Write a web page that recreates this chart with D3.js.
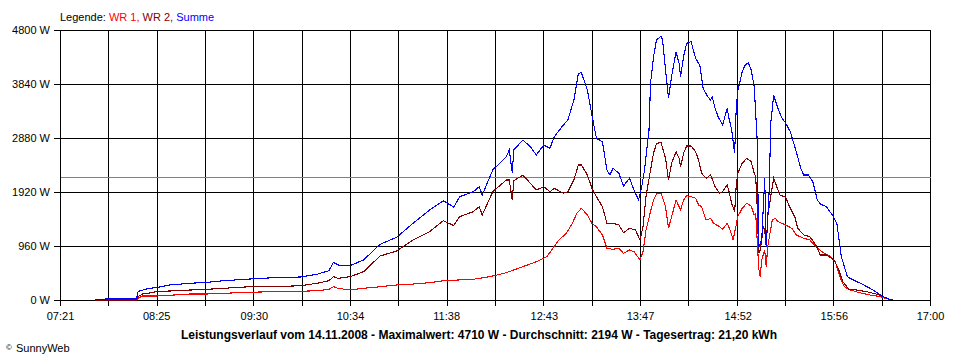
<!DOCTYPE html>
<html>
<head>
<meta charset="utf-8">
<script src="https://cdn.jsdelivr.net/npm/d3@7"></script>
<style>
  body { margin: 0; background: #fff; }
  svg { display: block; font-family: "Liberation Sans", Arial, sans-serif; }
</style>
</head>
<body>
<svg id="chart"></svg>
<script>
// ---- data (14.11.2008)
var xLabels = ["07:21", "08:25", "09:30", "10:34", "11:38", "12:43", "13:47", "14:52", "15:56", "17:00"];
var yTicks = [0, 960, 1920, 2880, 3840, 4800];
var average = 2194;

var wr1Time = ["07:44","08:12","08:13","08:16","08:25","08:34","08:48","08:59","09:10","09:27","09:43","10:01","10:12","10:20","10:23","10:26","10:34","10:43","10:54","11:05","11:16","11:27","11:36","11:46","11:56","12:07","12:18","12:29","12:38","12:45","12:49","12:53","12:58","13:02","13:05","13:08","13:12","13:15","13:18","13:22","13:25","13:29","13:33","13:36","13:40","13:43","13:47","13:49","13:51","13:54","13:56","13:58","14:01","14:04","14:06","14:08","14:11","14:13","14:14","14:16","14:18","14:21","14:24","14:26","14:28","14:31","14:34","14:36","14:40","14:42","14:45","14:47","14:49","14:51","14:52","14:55","14:58","15:01","15:03","15:04","15:05","15:06","15:07","15:08","15:10","15:11","15:12","15:15","15:17","15:19","15:24","15:28","15:31","15:36","15:40","15:44","15:48","15:54","15:57","16:00","16:03","16:07","16:13","16:20","16:27","16:32","16:35"];
var wr1Watt = [0,0,30,71,71,84,107,107,119,137,148,155,165,190,236,208,178,208,236,267,284,308,343,356,368,414,485,592,681,770,919,1067,1186,1364,1541,1630,1511,1364,1303,1156,919,901,919,830,889,859,711,859,1244,1570,1778,1884,1897,1659,1274,1481,1778,1659,1600,1778,1854,1836,1808,1689,1659,1422,1452,1364,1303,1257,1364,1244,1067,1333,1481,1630,1719,1671,1511,1541,1067,562,414,711,889,592,948,1422,1452,1392,1333,1274,1156,1097,1067,948,859,770,681,414,236,178,130,89,59,18,0];

var wr2Time = ["07:44","08:12","08:13","08:16","08:22","08:25","08:34","08:48","08:59","09:10","09:27","09:43","10:01","10:12","10:20","10:23","10:26","10:34","10:43","10:54","11:05","11:16","11:27","11:36","11:43","11:47","11:56","12:00","12:02","12:09","12:18","12:20","12:22","12:23","12:29","12:34","12:38","12:43","12:47","12:50","12:56","12:59","13:03","13:06","13:08","13:12","13:15","13:18","13:22","13:25","13:29","13:33","13:36","13:40","13:44","13:47","13:49","13:51","13:54","13:56","13:58","14:01","14:04","14:06","14:08","14:11","14:13","14:14","14:16","14:18","14:21","14:24","14:26","14:28","14:31","14:34","14:37","14:40","14:42","14:45","14:46","14:48","14:50","14:51","14:52","14:55","14:58","15:01","15:03","15:04","15:05","15:06","15:07","15:08","15:09","15:10","15:11","15:12","15:15","15:16","15:18","15:20","15:24","15:27","15:30","15:32","15:36","15:40","15:44","15:47","15:51","15:56","15:59","16:02","16:06","16:11","16:18","16:25","16:30","16:33","16:35"];
var wr2Watt = [0,0,59,107,130,148,160,178,190,208,236,236,254,297,343,414,386,414,503,782,871,1067,1214,1410,1324,1481,1570,1659,1511,1925,2133,2133,1778,2116,2222,2075,1956,2014,1925,1986,1897,1925,2133,2400,2400,2222,1986,1836,1659,1364,1364,1333,1196,1274,1244,1067,1303,1836,2311,2608,2786,2797,2519,2133,2430,2637,2519,2370,2608,2738,2738,2637,2489,2252,2164,2222,2014,1897,1925,2044,1956,1719,1570,2014,2252,2430,2519,2459,2252,2192,1659,830,889,1067,1303,1244,948,1481,2014,2164,2014,1867,1826,1630,1481,1274,1156,1126,978,800,800,711,562,325,190,178,148,101,48,12,0];

var sumTime = ["07:44","07:59","08:12","08:13","08:14","08:20","08:25","08:34","08:48","08:59","09:10","09:27","09:43","10:01","10:12","10:20","10:23","10:26","10:34","10:43","10:54","11:05","11:16","11:27","11:36","11:43","11:47","11:56","12:00","12:02","12:09","12:18","12:20","12:22","12:23","12:29","12:34","12:38","12:43","12:47","12:50","12:56","12:59","13:03","13:06","13:08","13:12","13:15","13:18","13:22","13:25","13:27","13:29","13:33","13:36","13:40","13:43","13:46","13:48","13:50","13:53","13:54","13:56","13:58","14:01","14:02","14:04","14:06","14:08","14:11","14:13","14:14","14:16","14:18","14:21","14:24","14:26","14:27","14:29","14:32","14:34","14:35","14:37","14:39","14:42","14:45","14:46","14:48","14:50","14:51","14:52","14:55","14:57","14:59","15:01","15:03","15:05","15:06","15:08","15:10","15:11","15:13","15:14","15:16","15:18","15:21","15:24","15:27","15:29","15:31","15:34","15:36","15:39","15:42","15:45","15:47","15:51","15:55","15:58","16:01","16:05","16:09","16:16","16:22","16:27","16:31","16:35"];
var sumWatt = [10,25,30,148,160,208,219,267,297,315,343,373,396,409,457,521,670,622,610,711,990,1115,1364,1600,1765,1653,1836,1925,2014,1867,2311,2548,2667,2263,2667,2844,2725,2578,2756,2697,2903,3111,3200,3556,4030,4041,3733,3289,2875,2814,2311,2222,2341,2252,2027,2164,1956,1778,1991,2311,3022,3852,4326,4622,4693,4622,4089,3585,3970,4414,4208,3970,4326,4563,4592,4297,4208,4148,3763,3615,3556,3615,3408,3259,3111,3408,3259,3022,2608,3378,3703,4059,4178,4219,4089,3793,2844,948,1067,2164,948,1956,3141,3644,3467,3259,3141,2992,2814,2637,2341,2222,2222,2103,1778,1707,1659,1511,1364,770,414,356,267,178,89,30,0];

var title = "Leistungsverlauf vom 14.11.2008 - Maximalwert: 4710 W - Durchschnitt: 2194 W - Tagesertrag: 21,20 kWh";

// ---- helpers
function toMin(s) {
  var p = s.split(":");
  return (+p[0]) * 60 + (+p[1]);
}
function pairs(times, watts) {
  return times.map(function (t, i) { return { t: toMin(t), v: watts[i] }; });
}

var series = [
  { name: "WR 1", color: "#ff0000", data: pairs(wr1Time, wr1Watt) },
  { name: "WR 2", color: "#800000", data: pairs(wr2Time, wr2Watt) },
  { name: "Summe", color: "#0000ff", data: pairs(sumTime, sumWatt) }
];

var width = 960, height = 360,
  margin = { top: 30, right: 30, bottom: 60, left: 60 };

var svg = d3.select("#chart").attr("width", width).attr("height", height);

var t0 = toMin(xLabels[0]), t1 = toMin(xLabels[xLabels.length - 1]);
var x = d3.scaleLinear().domain([t0, t1]).range([margin.left, width - margin.right]);
var y = d3.scaleLinear().domain([0, 4800]).range([height - margin.bottom, margin.top]);

var crisp = function (v) { return Math.round(v) + 0.5; };

//------------- grid (every label + one in between)
var gridT = d3.range(19).map(function (i) { return t0 + i * (t1 - t0) / 18; });

svg.selectAll(".vgrid").data(gridT).join("line").attr("class", "vgrid")
  .attr("x1", d => crisp(x(d))).attr("x2", d => crisp(x(d)))
  .attr("y1", crisp(y(4800))).attr("y2", y(0) + 6)
  .attr("stroke", "#000").attr("stroke-width", 1).attr("shape-rendering", "crispEdges");

svg.selectAll(".hgrid").data(yTicks).join("line").attr("class", "hgrid")
  .attr("x1", margin.left - 6).attr("x2", crisp(x(t1)))
  .attr("y1", d => crisp(y(d))).attr("y2", d => crisp(y(d)))
  .attr("stroke", "#000").attr("stroke-width", 1).attr("shape-rendering", "crispEdges");

// average line
svg.append("line")
  .attr("x1", crisp(x(t0))).attr("x2", crisp(x(t1)))
  .attr("y1", crisp(y(average))).attr("y2", crisp(y(average)))
  .attr("stroke", "#808080").attr("stroke-width", 1).attr("shape-rendering", "crispEdges");

//------------- axes (labels only, lines drawn above)
var xAxis = svg.append("g").attr("transform", "translate(0," + y(0) + ")")
  .call(d3.axisBottom(x).tickValues(xLabels.map(toMin)).tickFormat((d, i) => xLabels[i]).tickSize(0).tickPadding(12));
var yAxis = svg.append("g").attr("transform", "translate(" + margin.left + ",0)")
  .call(d3.axisLeft(y).tickValues(yTicks).tickFormat(d => d + " W").tickSize(0).tickPadding(10));
svg.selectAll(".domain").remove();
svg.selectAll(".tick text").attr("font-family", "'Liberation Sans', Arial, sans-serif").attr("font-size", 11).attr("fill", "#000");

//------------- lines
var line = d3.line().x(d => x(d.t)).y(d => y(d.v));
svg.selectAll(".series").data(series).join("path").attr("class", "series")
  .attr("d", d => line(d.data))
  .attr("fill", "none")
  .attr("stroke", d => d.color)
  .attr("stroke-width", 1.1)
  .attr("shape-rendering", "crispEdges");

//------------- legend
var legend = svg.append("text").attr("x", margin.left).attr("y", 21).attr("font-size", 11);
legend.append("tspan").attr("fill", "#000").text("Legende: ");
series.forEach(function (s, i) {
  legend.append("tspan").attr("fill", s.color).text(s.name + (i < series.length - 1 ? ", " : ""));
});

//------------- footer
svg.append("text").attr("x", 479).attr("y", 339).attr("text-anchor", "middle")
  .attr("font-size", 12).attr("font-weight", "bold").attr("fill", "#000").text(title);

var copy = svg.append("text").attr("x", 6).attr("y", 352).attr("font-size", 11).attr("fill", "#000");
copy.append("tspan").attr("font-size", 8).attr("dy", -2).text("©");
copy.append("tspan").attr("x", 16).attr("dy", 2).text("SunnyWeb");
</script>
</body>
</html>
